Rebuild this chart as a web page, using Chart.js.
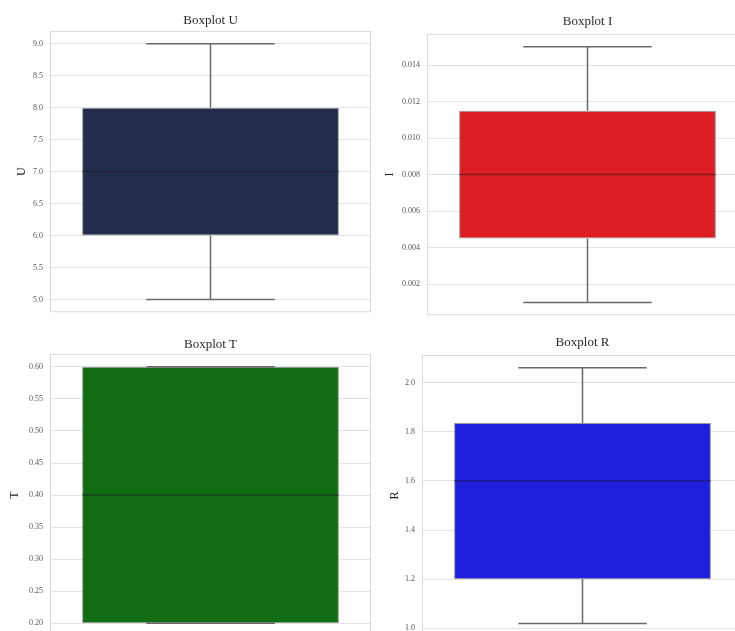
<!DOCTYPE html>
<html>
<head>
<meta charset="utf-8">
<script src="https://cdn.jsdelivr.net/npm/chart.js@4/dist/chart.umd.min.js"></script>
<style>
  html, body { margin: 0; padding: 0; background: #fff; overflow: hidden; }
  body { width: 735px; height: 631px; position: relative; }
  canvas { position: absolute; }
</style>
</head>
<body>
<canvas id="boxU" width="366" height="324" style="left:5px;top:0px"></canvas>
<canvas id="boxI" width="366" height="327" style="left:382px;top:0px"></canvas>
<canvas id="boxT" width="366" height="328" style="left:5px;top:320px"></canvas>
<canvas id="boxR" width="366" height="328" style="left:377px;top:320px"></canvas>
<script>
// box stats: min, q1, median, q3, max
const uStats = [5, 6, 7, 8, 9];
const iStats = [0.001, 0.0045, 0.008, 0.0115, 0.015];
const tStats = [0.2, 0.2, 0.4, 0.6, 0.6];
const rStats = [1.02, 1.2, 1.6, 1.835, 2.06];

// tick labels
const uTicks = [5.0, 5.5, 6.0, 6.5, 7.0, 7.5, 8.0, 8.5, 9.0];
const iTicks = [0.002, 0.004, 0.006, 0.008, 0.010, 0.012, 0.014];
const tTicks = [0.20, 0.25, 0.30, 0.35, 0.40, 0.45, 0.50, 0.55, 0.60];
const rTicks = [1.0, 1.2, 1.4, 1.6, 1.8, 2.0];

const serif = "'Liberation Serif', 'Times New Roman', serif";

// whiskers, caps, median and the light frame
const boxPlugin = {
  id: 'boxPlugin',
  afterDatasetsDraw(chart) {
    const ctx = chart.ctx;
    const ds = chart.data.datasets[0];
    const s = ds.stats;
    const bar = chart.getDatasetMeta(0).data[0];
    const y = chart.scales.y;
    const x = bar.x, w = bar.width;
    ctx.save();
    ctx.strokeStyle = 'rgb(105,105,105)';
    ctx.lineWidth = 1.5;
    ctx.beginPath();
    ctx.moveTo(x, y.getPixelForValue(s[3]));
    ctx.lineTo(x, y.getPixelForValue(s[4]));
    ctx.moveTo(x, y.getPixelForValue(s[1]));
    ctx.lineTo(x, y.getPixelForValue(s[0]));
    ctx.moveTo(x - w / 4, y.getPixelForValue(s[4]));
    ctx.lineTo(x + w / 4, y.getPixelForValue(s[4]));
    ctx.moveTo(x - w / 4, y.getPixelForValue(s[0]));
    ctx.lineTo(x + w / 4, y.getPixelForValue(s[0]));
    ctx.stroke();
    ctx.strokeStyle = 'rgba(20,20,30,0.45)';
    ctx.beginPath();
    ctx.moveTo(x - w / 2, y.getPixelForValue(s[2]));
    ctx.lineTo(x + w / 2, y.getPixelForValue(s[2]));
    ctx.stroke();
    ctx.restore();
  },
  afterDraw(chart) {
    const a = chart.chartArea;
    const ctx = chart.ctx;
    ctx.save();
    ctx.strokeStyle = '#dcdcdc';
    ctx.lineWidth = 1;
    ctx.strokeRect(a.left + 0.5, a.top + 0.5, a.right - a.left - 1, a.bottom - a.top - 1);
    ctx.restore();
  }
};

function makeBox(id, name, stats, ticks, decimals, color, titlePad, axisPad) {
  const span = stats[4] - stats[0];
  return new Chart(document.getElementById(id), {
    type: 'bar',
    data: {
      labels: [name],
      datasets: [{
        data: [[stats[1], stats[3]]],
        stats: stats,
        backgroundColor: color,
        borderColor: 'rgba(140,140,140,0.9)',
        borderWidth: 1,
        borderSkipped: false,
        barPercentage: 0.8,
        categoryPercentage: 1
      }]
    },
    options: {
      responsive: false,
      animation: false,
      devicePixelRatio: 1,
      layout: { padding: 0 },
      plugins: {
        legend: { display: false },
        tooltip: { enabled: false },
        title: {
          display: true,
          text: 'Boxplot ' + name,
          fullSize: false,
          color: '#2a2a2a',
          font: { family: serif, size: 13, weight: 'normal', lineHeight: '15px' },
          padding: titlePad
        }
      },
      scales: {
        x: { display: false },
        y: {
          min: stats[0] - span * 0.05,
          max: stats[4] + span * 0.05,
          afterBuildTicks: (scale) => { scale.ticks = ticks.map(v => ({ value: v })); },
          afterFit: (scale) => { scale.width = 45; },
          border: { display: false },
          grid: { color: '#e3e3e3', lineWidth: 1, drawTicks: false },
          ticks: {
            padding: 7,
            color: '#555',
            font: { family: serif, size: 8 },
            callback: (v) => Number(v).toFixed(decimals)
          },
          title: {
            display: true,
            text: name,
            color: '#222',
            font: { family: serif, size: 12, lineHeight: '12px' },
            padding: { top: axisPad, bottom: 0 }
          }
        }
      }
    },
    plugins: [boxPlugin]
  });
}

makeBox('boxU', 'U', uStats, uTicks, 1, '#242c4b', { top: 13, bottom: 3 }, 11);
makeBox('boxI', 'I', iStats, iTicks, 3, '#dc1e22', { top: 14.5, bottom: 4.5 }, 2);
makeBox('boxT', 'T', tStats, tTicks, 2, '#106d13', { top: 17.5, bottom: 1.5 }, 4);
makeBox('boxR', 'R', rStats, rTicks, 1, '#2020dc', { top: 15.5, bottom: 4.5 }, 12);
</script>
</body>
</html>
